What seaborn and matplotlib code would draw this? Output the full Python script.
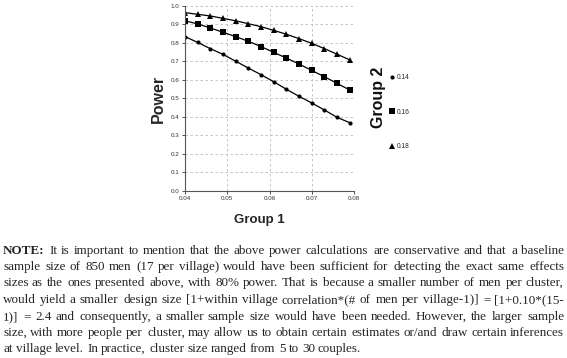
import numpy as np
import pandas as pd
import seaborn as sns
import matplotlib.pyplot as plt
from matplotlib.lines import Line2D

# values
group1 = [0.040, 0.043, 0.046, 0.049, 0.052, 0.055, 0.058,
          0.061, 0.064, 0.067, 0.070, 0.073, 0.076, 0.079]
power_014 = [0.834, 0.803, 0.769, 0.738, 0.701, 0.664, 0.628,
             0.590, 0.549, 0.511, 0.475, 0.437, 0.397, 0.368]
power_016 = [0.920, 0.903, 0.881, 0.858, 0.834, 0.809, 0.780,
             0.749, 0.718, 0.686, 0.651, 0.617, 0.581, 0.545]
power_018 = [0.964, 0.955, 0.946, 0.933, 0.920, 0.904, 0.888,
             0.868, 0.847, 0.823, 0.798, 0.769, 0.739, 0.708]
group2_levels = ['0.14', '0.16', '0.18']
xticks = [0.04, 0.05, 0.06, 0.07, 0.08]
yticks = [0.0, 0.1, 0.2, 0.3, 0.4, 0.5, 0.6, 0.7, 0.8, 0.9, 1.0]

note_lines = [
    "NOTE: It is important to mention that the above power calculations are conservative and that a baseline",
    "sample size of 850 men (17 per village) would have been sufficient for detecting the exact same effects",
    "sizes as the ones presented above, with 80% power. That is because a smaller number of men per cluster,",
    "would yield a smaller design size [1+within village correlation*(# of men per village-1)] = [1+0.10*(15-",
    "1)] = 2.4 and consequently, a smaller sample size would have been needed. However, the larger sample",
    "size, with more people per cluster, may allow us to obtain certain estimates or/and draw certain inferences",
    "at village level. In practice, cluster size ranged from 5 to 30 couples.",
]

df = pd.DataFrame({
    'Group 1': group1 * 3,
    'Power': power_014 + power_016 + power_018,
    'Group 2': [lv for lv in group2_levels for _ in group1],
})

sns.set_style('white')
plt.rcParams['font.family'] = ['Liberation Sans', 'DejaVu Sans']

W, H = 567, 358
fig = plt.figure(figsize=(W / 100, H / 100), dpi=100)
ax = fig.add_axes([185 / W, 1 - 190.7 / H, 169 / W, 184.7 / H])

markers = {'0.14': 'o', '0.16': 's', '0.18': '^'}
sns.lineplot(data=df, x='Group 1', y='Power', style='Group 2', markers=markers,
             dashes=False, color='black', lw=0.9, markeredgecolor='black',
             markeredgewidth=0, legend=False, ax=ax)
msizes = {'0.14': 3.0, '0.16': 3.8, '0.18': 4.0}
for line, lv in zip(ax.lines, group2_levels):
    line.set_markersize(msizes[lv])

ax.set_xlim(0.04, 0.08)
ax.set_ylim(0.0, 1.0)
ax.set_xticks(xticks)
ax.set_yticks(yticks)
ax.set_xticklabels([f'{t:.2f}' for t in xticks])
ax.set_yticklabels([f'{t:.1f}' for t in yticks])
ax.tick_params(labelsize=4.5, colors='#333333', length=2.5, width=0.6, pad=1.5,
               left=True, bottom=True)
ax.grid(True, ls=(0, (3, 3)), color='#bdbdbd', lw=0.6)
ax.set_axisbelow(True)
for s in ['top', 'right']:
    ax.spines[s].set_visible(False)
for s in ['left', 'bottom']:
    ax.spines[s].set_color('#555555')
    ax.spines[s].set_linewidth(0.8)
ax.set_xlabel('')
ax.set_ylabel('')

fig.text(158 / W, 1 - 99 / H, 'Power', rotation=90, fontsize=11.5, fontweight='bold',
         ha='center', va='center')
fig.text(259 / W, 1 - 220 / H, 'Group 1', fontsize=9.5, fontweight='bold',
         ha='center', va='center')
fig.text(379 / W, 1 - 97 / H, 'Group 2', rotation=90, fontsize=11.5, fontweight='bold',
         ha='center', va='center', color='#111111')

handles = [Line2D([], [], ls='none', marker=markers[lv], color='black', mew=0,
                  markersize=msizes[lv]) for lv in group2_levels]
fig.legend(handles, group2_levels, loc='upper left', bbox_to_anchor=(389 / W, 1 - 74 / H),
           frameon=False, fontsize=4.8, handlelength=0.8, handletextpad=0.4,
           labelspacing=4.15, borderpad=0, borderaxespad=0)

# justified note text below the chart
renderer = fig.canvas.get_renderer()
serif = 'Liberation Serif'


def text_width(s, fs, weight='normal'):
    t = fig.text(0, 0, s, fontsize=fs, family=serif, fontweight=weight)
    w = t.get_window_extent(renderer).width
    t.remove()
    return w


# fit the font so the last (unjustified) line ends where it does in the picture
fs = 10 * 360 / text_width(note_lines[-1], 10)
left_px, right_px = 3, 564
baseline0, step = 253.5, 16.5
for i, line in enumerate(note_lines):
    words = line.split(' ')
    weights = ['bold' if (i == 0 and j == 0) else 'normal' for j in range(len(words))]
    widths = [text_width(w, fs, wt) for w, wt in zip(words, weights)]
    natural = text_width(line, fs)
    if i < len(note_lines) - 1:
        gap = (right_px - left_px - sum(widths)) / (len(words) - 1)
    else:
        gap = (natural - sum(widths)) / (len(words) - 1)
    x = left_px
    yp = round(baseline0 + i * step)
    for w, wt, wd in zip(words, weights, widths):
        fig.text(round(x) / W, 1 - yp / H, w, fontsize=fs, family=serif, fontweight=wt,
                 va='baseline', ha='left')
        x += wd + gap

fig.savefig('out.png', dpi=100)
